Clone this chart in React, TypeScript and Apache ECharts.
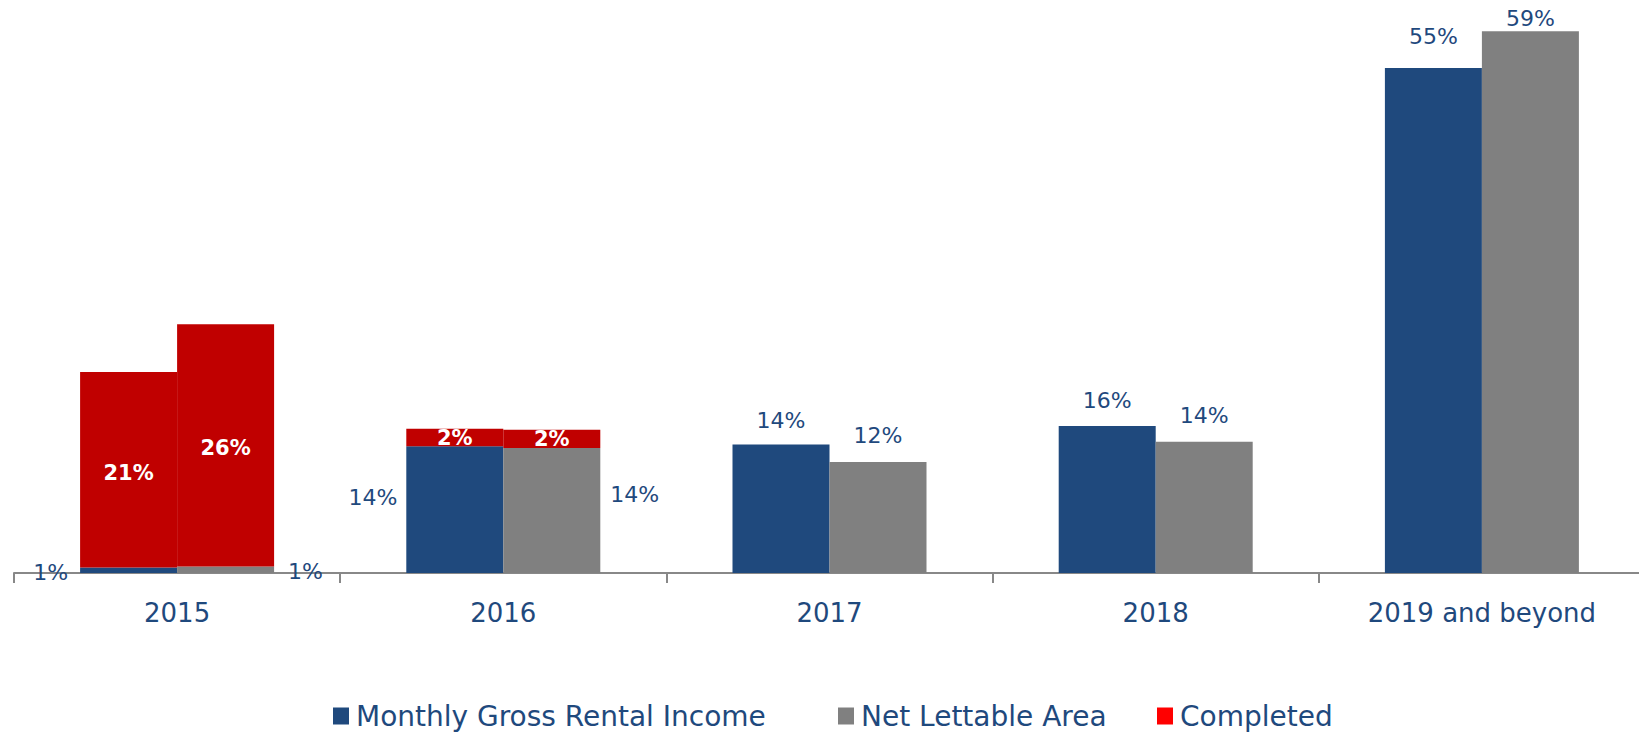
import React, { useEffect, useRef } from "react";
import * as echarts from "echarts";

const categories = ["2015", "2016", "2017", "2018", "2019 and beyond"];
const rentalIncome = [0.6, 13.8, 14, 16, 55];
const rentalCompleted = [21.3, 1.9, null, null, null];
const lettableArea = [0.7, 13.6, 12.1, 14.3, 59];
const areaCompleted = [26.4, 2.0, null, null, null];

const BLUE = "#1F497D";
const GRAY = "#808080";
const RED = "#C00000";
const TEXT = "#1F497D";
const FONT = "DejaVu Sans";

const pct = (p: any) => Math.max(1, Math.round(p.value)) + "%";

const outsideLabel = {
  show: true,
  position: "top",
  distance: 15,
  color: TEXT,
  fontFamily: FONT,
  fontSize: 22,
  formatter: pct,
};

const insideLabel = {
  show: true,
  position: "inside",
  color: "#FFFFFF",
  fontFamily: FONT,
  fontSize: 21,
  fontWeight: "bold",
  formatter: pct,
};

export default function App() {
  const ref = useRef<HTMLDivElement>(null);
  useEffect(() => {
    if (!ref.current) return;
    const chart = echarts.init(ref.current, undefined, { renderer: "svg" });

    const blueData = rentalIncome.map((v, i) => {
      if (i === 0) return { value: v, label: { position: "left", distance: 12, offset: [0, 2] } };
      if (i === 1) return { value: v, label: { position: "left", distance: 9, offset: [0, -12] } };
      if (i === 2) return { value: v, label: { distance: 13 } };
      if (i === 4) return { value: v, label: { distance: 20 } };
      return { value: v };
    });
    const grayData = lettableArea.map((v, i) => {
      if (i === 0) return { value: v, label: { position: "right", distance: 14, offset: [0, 2] } };
      if (i === 1) return { value: v, label: { position: "right", distance: 10, offset: [0, -16] } };
      if (i === 4) return { value: v, label: { distance: 2 } };
      return { value: v };
    });
    const redA = rentalCompleted.map((v, i) =>
      i === 0 ? { value: v, label: { offset: [0, 3] } } : v
    );
    const redB = areaCompleted.map((v, i) =>
      i === 0 ? { value: v, label: { offset: [0, 3] } } : v
    );

    const legendBase = {
      orient: "horizontal",
      top: 701,
      padding: 0,
      icon: "rect",
      itemWidth: 16,
      itemHeight: 17,
      itemGap: 0,
      selectedMode: false,
      textStyle: { color: TEXT, fontFamily: FONT, fontSize: 28, lineHeight: 30, padding: [0, 0, 0, 2] },
    };

    chart.setOption({
      animation: false,
      backgroundColor: "#FFFFFF",
      grid: {
        left: 14,
        top: 22,
        width: 1631,
        height: 551,
        containLabel: false,
        outerBoundsMode: "none",
      },
      xAxis: {
        type: "category",
        data: categories,
        axisLine: { show: true, lineStyle: { color: "#888888", width: 2 } },
        axisTick: { show: true, length: 10, alignWithLabel: false, lineStyle: { color: "#888888", width: 2 } },
        axisLabel: { color: TEXT, fontFamily: FONT, fontSize: 26, margin: 27 },
        splitLine: { show: false },
      },
      yAxis: {
        type: "value",
        min: 0,
        max: 60,
        show: false,
        splitLine: { show: false },
      },
      legend: [
        { ...legendBase, left: 333, data: [{ name: "Monthly Gross Rental Income", itemStyle: { color: BLUE } }] },
        { ...legendBase, left: 838, data: [{ name: "Net Lettable Area", itemStyle: { color: GRAY } }] },
        { ...legendBase, left: 1157, data: [{ name: "Completed", itemStyle: { color: "#FF0000" } }] },
      ],
      series: [
        {
          name: "Monthly Gross Rental Income",
          type: "bar",
          stack: "income",
          barWidth: 97,
          barGap: "0%",
          itemStyle: { color: BLUE },
          label: outsideLabel,
          data: blueData,
        },
        {
          name: "Completed",
          type: "bar",
          stack: "income",
          barWidth: 97,
          barGap: "0%",
          itemStyle: { color: RED },
          label: insideLabel,
          data: redA,
        },
        {
          name: "Net Lettable Area",
          type: "bar",
          stack: "area",
          barWidth: 97,
          barGap: "0%",
          itemStyle: { color: GRAY },
          label: outsideLabel,
          data: grayData,
        },
        {
          name: "Completed",
          type: "bar",
          stack: "area",
          barWidth: 97,
          barGap: "0%",
          itemStyle: { color: RED },
          label: insideLabel,
          data: redB,
        },
      ],
    });
    return () => chart.dispose();
  }, []);

  return (
    <div
      ref={ref}
      style={{ position: "fixed", left: 0, top: 0, width: 1639, height: 735, background: "#FFFFFF" }}
    />
  );
}
